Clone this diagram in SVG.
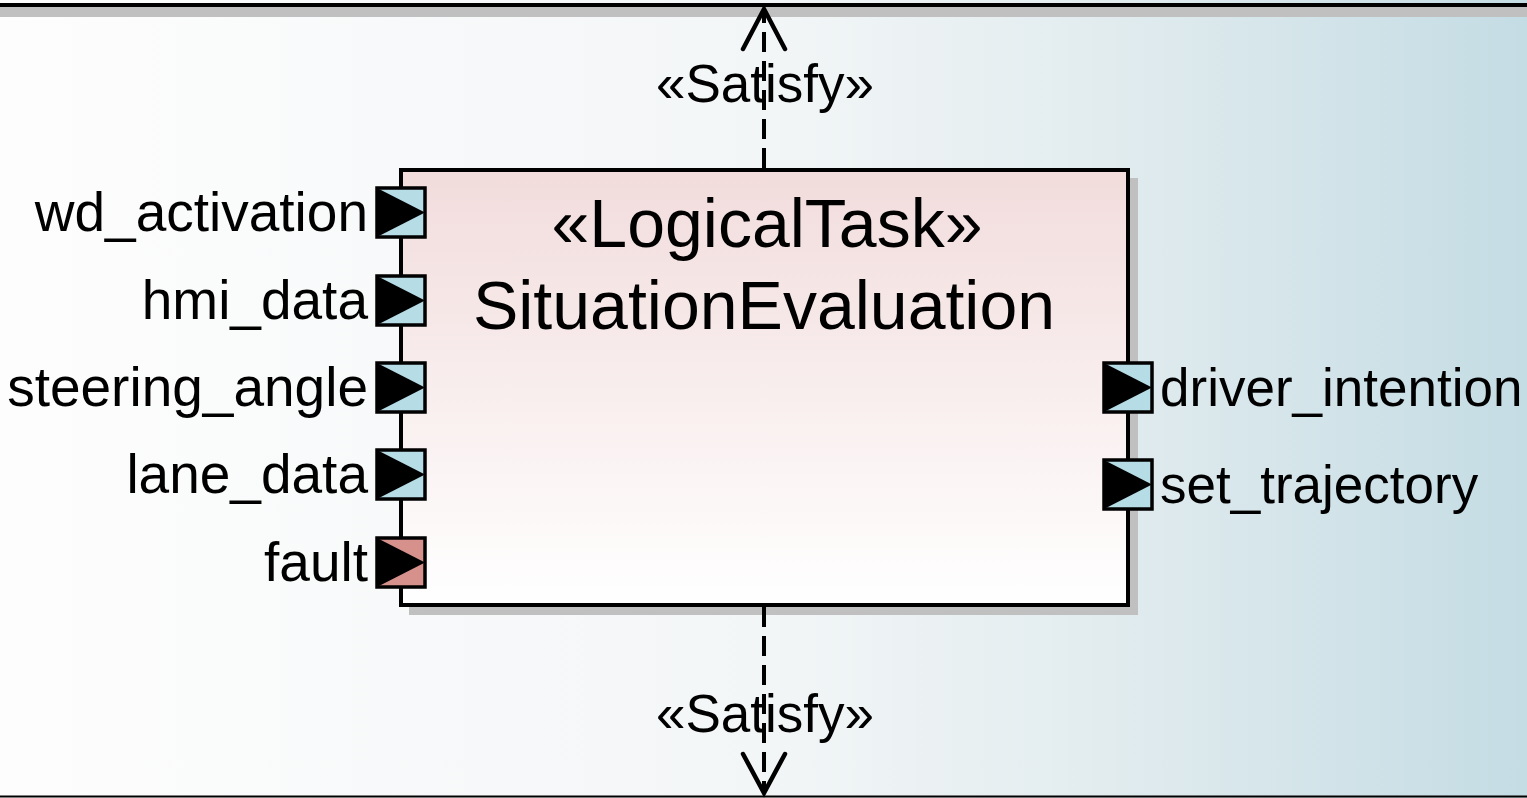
<svg xmlns="http://www.w3.org/2000/svg" width="1527" height="798" viewBox="0 0 1527 798">
<defs>
<linearGradient id="bg" x1="0" y1="0" x2="1" y2="0">
<stop offset="0" stop-color="#fdfdfd"/>
<stop offset="0.5" stop-color="#f3f6f7"/>
<stop offset="0.72" stop-color="#e2ecef"/>
<stop offset="1" stop-color="#c4dce4"/>
</linearGradient>
<linearGradient id="blk" x1="0" y1="0" x2="0" y2="1">
<stop offset="0" stop-color="#f2dcdc"/>
<stop offset="1" stop-color="#ffffff"/>
</linearGradient>
<style>
.lbl{font-family:"Liberation Sans",Arial,sans-serif;font-size:55px;fill:#000}
.lblr{font-family:"Liberation Sans",Arial,sans-serif;font-size:53px;fill:#000}
.ttl{font-family:"Liberation Sans",Arial,sans-serif;font-size:68px;fill:#000;text-anchor:middle}
.port{stroke:#000;stroke-width:3.5}
.in{fill:#b6dce6}
.flt{fill:#d6918d}
.dash{stroke:#000;stroke-width:4;stroke-dasharray:20 9;fill:none}
.head{stroke:#000;stroke-width:4.5;fill:none;stroke-linecap:round}
</style>
</defs>
<rect x="0" y="0" width="1527" height="798" fill="url(#bg)"/>
<g id="frame">
<rect x="0" y="7" width="1527" height="10" fill="#c0c0c0"/>
<line x1="0" y1="5" x2="1527" y2="5" stroke="#000" stroke-width="4"/>
<line x1="0" y1="796.5" x2="1527" y2="796.5" stroke="#000" stroke-width="2"/>
</g>
<g id="SituationEvaluation">
<rect x="409" y="178" width="729" height="437" fill="#c0c0c0"/>
<rect x="401" y="170" width="727" height="435" fill="url(#blk)" stroke="#000" stroke-width="4"/>
<text class="ttl" x="767" y="247">«LogicalTask»</text>
<text class="ttl" x="764" y="329">SituationEvaluation</text>
</g>
<g id="port_wd_activation">
<rect class="port in" x="377" y="188" width="48" height="49"/>
<polygon points="377,188 425,212.5 377,237" fill="#000"/>
<text class="lbl" x="368" y="231" text-anchor="end">wd_activation</text>
</g>
<g id="port_hmi_data">
<rect class="port in" x="377" y="276" width="48" height="49"/>
<polygon points="377,276 425,300.5 377,325" fill="#000"/>
<text class="lbl" x="368" y="319" text-anchor="end">hmi_data</text>
</g>
<g id="port_steering_angle">
<rect class="port in" x="377" y="363" width="48" height="49"/>
<polygon points="377,363 425,387.5 377,412" fill="#000"/>
<text class="lbl" x="368" y="406" text-anchor="end">steering_angle</text>
</g>
<g id="port_lane_data">
<rect class="port in" x="377" y="450" width="48" height="49"/>
<polygon points="377,450 425,474.5 377,499" fill="#000"/>
<text class="lbl" x="368" y="493" text-anchor="end">lane_data</text>
</g>
<g id="port_fault">
<rect class="port flt" x="377" y="538" width="48" height="49"/>
<polygon points="377,538 425,562.5 377,587" fill="#000"/>
<text class="lbl" x="368" y="581" text-anchor="end">fault</text>
</g>
<g id="port_driver_intention">
<rect class="port in" x="1104" y="363" width="48" height="49"/>
<polygon points="1104,363 1152,387.5 1104,412" fill="#000"/>
<text class="lblr" x="1160" y="406">driver_intention</text>
</g>
<g id="port_set_trajectory">
<rect class="port in" x="1104" y="460" width="48" height="49"/>
<polygon points="1104,460 1152,484.5 1104,509" fill="#000"/>
<text class="lblr" x="1160" y="503">set_trajectory</text>
</g>
<g id="connectors">
<line class="dash" x1="764" y1="168" x2="764" y2="9"/>
<polyline class="head" points="743,49 764,9 785,49"/>
<text class="lblr" x="765" y="102" text-anchor="middle">«Satisfy»</text>
<line class="dash" x1="764" y1="607" x2="764" y2="793"/>
<polyline class="head" points="743,754 764,793 785,754"/>
<text class="lblr" x="765" y="732" text-anchor="middle">«Satisfy»</text>
</g>
</svg>
